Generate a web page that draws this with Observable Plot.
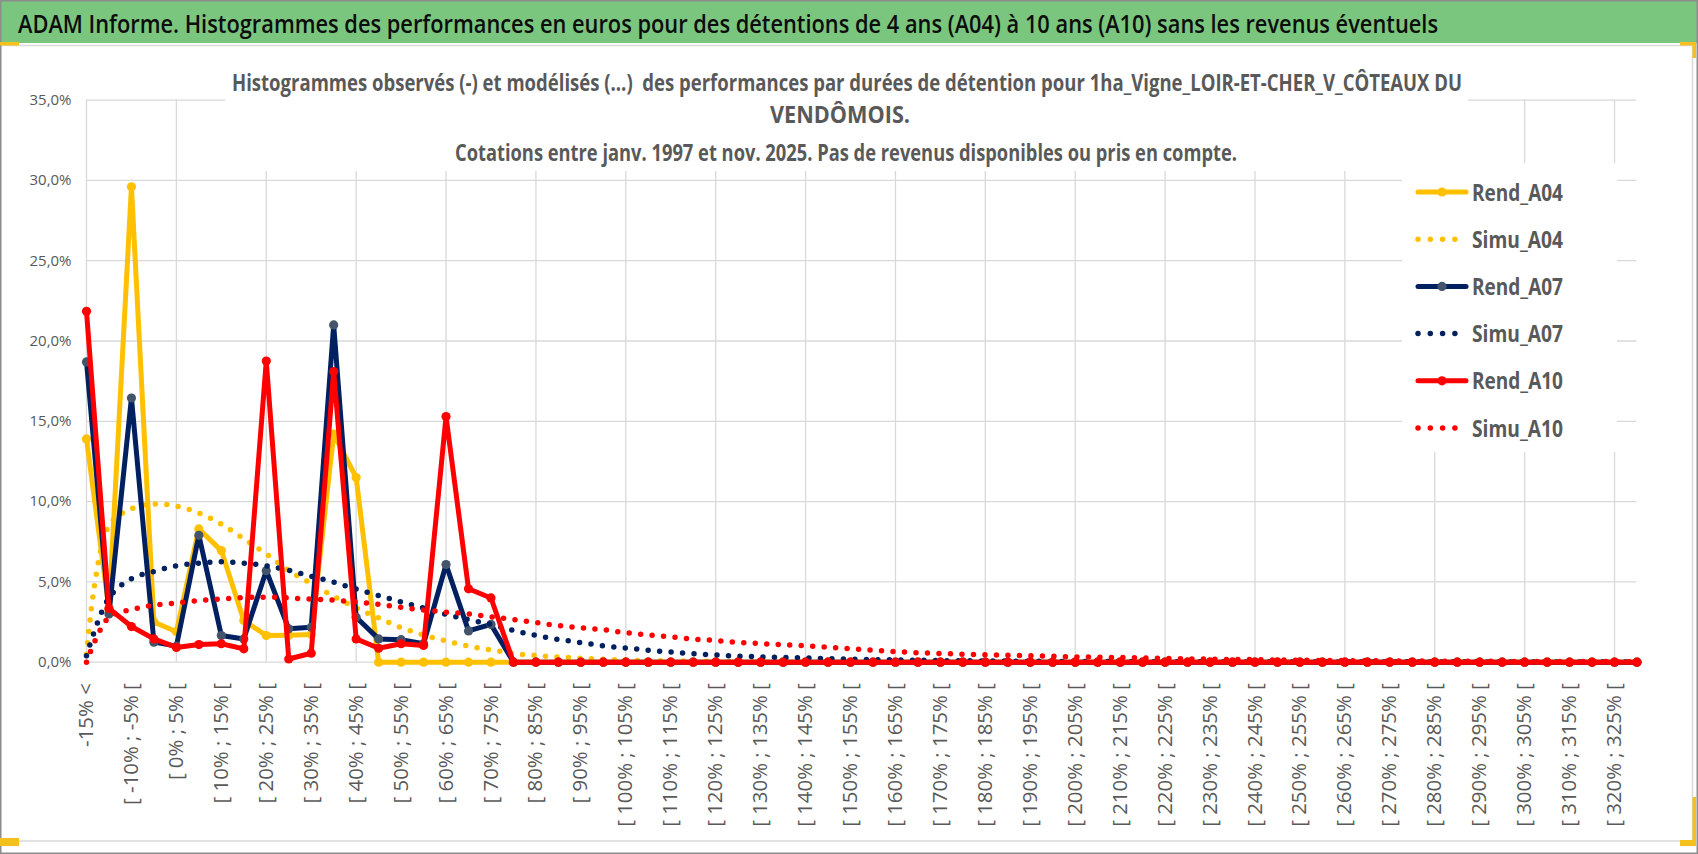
<!DOCTYPE html>
<html>
<head>
<meta charset="utf-8">
<script src="https://cdn.jsdelivr.net/npm/d3@7"></script>
<script src="https://cdn.jsdelivr.net/npm/@observablehq/plot@0.6"></script>
<style>
  html, body { margin: 0; padding: 0; background: #fff; }
  #wrap { position: relative; width: 1698px; height: 854px; overflow: hidden; background: #fff; }
  #plot { position: absolute; left: 0; top: 45px; }
  #overlay { position: absolute; left: 0; top: 0; pointer-events: none; }
  #overlay text { font-family: 'Open Sans', sans-serif; white-space: pre; }
</style>
</head>
<body>
<div id="wrap">
  <div id="plot"></div>
  <svg id="overlay" width="1698" height="854" xmlns="http://www.w3.org/2000/svg"></svg>
</div>
<script>
// ---------------- DATA ----------------
const categories = [
  "-15% <", "[ -15% ; -10% [", "[ -10% ; -5% [", "[ -5% ; 0% [", "[ 0% ; 5% [",
  "[ 5% ; 10% [", "[ 10% ; 15% [", "[ 15% ; 20% [", "[ 20% ; 25% [", "[ 25% ; 30% [",
  "[ 30% ; 35% [", "[ 35% ; 40% [", "[ 40% ; 45% [", "[ 45% ; 50% [", "[ 50% ; 55% [",
  "[ 55% ; 60% [", "[ 60% ; 65% [", "[ 65% ; 70% [", "[ 70% ; 75% [", "[ 75% ; 80% [",
  "[ 80% ; 85% [", "[ 85% ; 90% [", "[ 90% ; 95% [", "[ 95% ; 100% [", "[ 100% ; 105% [",
  "[ 105% ; 110% [", "[ 110% ; 115% [", "[ 115% ; 120% [", "[ 120% ; 125% [", "[ 125% ; 130% [",
  "[ 130% ; 135% [", "[ 135% ; 140% [", "[ 140% ; 145% [", "[ 145% ; 150% [", "[ 150% ; 155% [",
  "[ 155% ; 160% [", "[ 160% ; 165% [", "[ 165% ; 170% [", "[ 170% ; 175% [", "[ 175% ; 180% [",
  "[ 180% ; 185% [", "[ 185% ; 190% [", "[ 190% ; 195% [", "[ 195% ; 200% [", "[ 200% ; 205% [",
  "[ 205% ; 210% [", "[ 210% ; 215% [", "[ 215% ; 220% [", "[ 220% ; 225% [", "[ 225% ; 230% [",
  "[ 230% ; 235% [", "[ 235% ; 240% [", "[ 240% ; 245% [", "[ 245% ; 250% [", "[ 250% ; 255% [",
  "[ 255% ; 260% [", "[ 260% ; 265% [", "[ 265% ; 270% [", "[ 270% ; 275% [", "[ 275% ; 280% [",
  "[ 280% ; 285% [", "[ 285% ; 290% [", "[ 290% ; 295% [", "[ 295% ; 300% [", "[ 300% ; 305% [",
  "[ 305% ; 310% [", "[ 310% ; 315% [", "[ 315% ; 320% [", "[ 320% ; 325% [", "[ 325% ; 330% ["
];

// values in percent
const rendA04 = [13.9, 3.3, 29.6, 2.5, 1.9, 8.3, 6.95, 2.6, 1.66, 1.68, 1.72, 14.2, 11.5,
  0, 0, 0, 0, 0, 0, 0, 0, 0, 0, 0, 0, 0, 0, 0, 0, 0, 0, 0, 0, 0, 0, 0, 0, 0, 0, 0, 0,
  0, 0, 0, 0, 0, 0, 0, 0, 0, 0, 0, 0, 0, 0, 0, 0, 0, 0, 0, 0, 0, 0, 0, 0, 0, 0, 0, 0, 0];
const simuA04 = [0.5, 8.5, 9.55, 9.85, 9.72, 9.28, 8.6, 7.68, 6.74, 5.71, 4.9, 4.1, 3.38, 2.75, 2.15,
  1.7, 1.32, 1.0, 0.77, 0.54, 0.42, 0.32, 0.25, 0.18, 0.13, 0.1, 0.08, 0.06, 0.05, 0.04,
  0.03, 0.03, 0.02, 0.02, 0.02, 0.02, 0.01, 0.01, 0.01, 0.01, 0.01, 0.01, 0.01, 0.01, 0.01,
  0.01, 0.01, 0.01, 0.01, 0.01, 0.01, 0.01, 0.01, 0.01, 0.01, 0.01, 0.01, 0.01, 0.01, 0.01,
  0.01, 0.01, 0.01, 0.01, 0.01, 0.01, 0.01, 0.01, 0.01, 0.01];
const rendA07 = [18.7, 3.0, 16.45, 1.25, 1.0, 7.9, 1.66, 1.45, 5.7, 2.08, 2.18, 21.0, 2.8, 1.45, 1.4,
  1.15, 6.08, 1.95, 2.35, 0, 0, 0, 0, 0, 0, 0, 0, 0, 0, 0, 0, 0, 0, 0, 0, 0, 0, 0, 0, 0, 0,
  0, 0, 0, 0, 0, 0, 0, 0, 0, 0, 0, 0, 0, 0, 0, 0, 0, 0, 0, 0, 0, 0, 0, 0, 0, 0, 0, 0, 0];
const simuA07 = [0.4, 4.0, 5.2, 5.65, 6.0, 6.17, 6.25, 6.17, 6.0, 5.72, 5.35, 4.98, 4.55, 4.15, 3.75,
  3.38, 2.98, 2.65, 2.35, 1.98, 1.67, 1.42, 1.22, 1.02, 0.88, 0.75, 0.63, 0.53, 0.45, 0.38,
  0.33, 0.29, 0.26, 0.22, 0.19, 0.16, 0.14, 0.12, 0.1, 0.09, 0.08, 0.07, 0.06, 0.05, 0.05,
  0.04, 0.04, 0.03, 0.03, 0.03, 0.02, 0.02, 0.02, 0.02, 0.02, 0.02, 0.02, 0.02, 0.02, 0.02,
  0.01, 0.01, 0.01, 0.01, 0.01, 0.01, 0.01, 0.01, 0.01, 0.01];
const rendA10 = [21.85, 3.35, 2.22, 1.45, 0.92, 1.1, 1.15, 0.83, 18.75, 0.2, 0.56, 18.1, 1.45, 0.87, 1.15,
  1.04, 15.3, 4.57, 4.0, 0, 0, 0, 0, 0, 0, 0, 0, 0, 0, 0, 0, 0, 0, 0, 0, 0, 0, 0, 0, 0, 0,
  0, 0, 0, 0, 0, 0, 0, 0, 0, 0, 0, 0, 0, 0, 0, 0, 0, 0, 0, 0, 0, 0, 0, 0, 0, 0, 0, 0, 0];
const simuA10 = [0.0, 2.8, 3.27, 3.55, 3.68, 3.84, 3.93, 4.02, 4.05, 4.0, 3.93, 3.86, 3.75, 3.6, 3.42,
  3.25, 3.12, 3.0, 2.83, 2.66, 2.47, 2.28, 2.14, 2.02, 1.84, 1.7, 1.58, 1.44, 1.35, 1.23,
  1.16, 1.09, 1.02, 0.93, 0.84, 0.74, 0.66, 0.59, 0.54, 0.5, 0.47, 0.43, 0.41, 0.37, 0.33,
  0.31, 0.29, 0.26, 0.23, 0.21, 0.19, 0.17, 0.16, 0.14, 0.12, 0.11, 0.1, 0.09, 0.08, 0.08,
  0.07, 0.06, 0.06, 0.05, 0.05, 0.05, 0.04, 0.04, 0.04, 0.03];

const yTicks = [0, 5, 10, 15, 20, 25, 30, 35];
const labelIdx = d3.range(0, categories.length, 2);
const gridIdx = d3.range(0, categories.length, 4);

const series = [
  { name: "Rend_A04", values: rendA04, color: "#FFC000", marker: "#FFC000", dotted: false },
  { name: "Simu_A04", values: simuA04, color: "#FFC000", dotted: true },
  { name: "Rend_A07", values: rendA07, color: "#002060", marker: "#44546A", dotted: false },
  { name: "Simu_A07", values: simuA07, color: "#002060", dotted: true },
  { name: "Rend_A10", values: rendA10, color: "#FF0000", marker: "#FF0000", dotted: false },
  { name: "Simu_A10", values: simuA10, color: "#FF0000", dotted: true }
];

const titleMain = "ADAM Informe. Histogrammes des performances en euros pour des détentions de 4 ans (A04) à 10 ans (A10) sans les revenus éventuels";
const subLines = [
  "Histogrammes observés (-) et modélisés (...)  des performances par durées de détention pour 1ha_Vigne_LOIR-ET-CHER_V_CÔTEAUX DU",
  "VENDÔMOIS.",
  "Cotations entre janv. 1997 et nov. 2025. Pas de revenus disponibles ou pris en compte."
];

// ---------------- PLOT ----------------
const X = (d, i) => i;
const Y = d => d;
const seriesMarks = series.flatMap(s => s.dotted
  ? [Plot.line(s.values, { x: X, y: Y, stroke: s.color, strokeWidth: 5.5, strokeDasharray: "0 11.5",
      strokeLinecap: "round", curve: "catmull-rom" })]
  : [Plot.line(s.values, { x: X, y: Y, stroke: s.color, strokeWidth: 5, strokeLinejoin: "round", strokeLinecap: "round" }),
     Plot.dot(s.values, { x: X, y: Y, r: 4.6, fill: s.marker, stroke: null })]
);

const chart = Plot.plot({
  width: 1698,
  height: 796,
  marginLeft: 86,
  marginRight: 61.5,
  marginTop: 54.6,
  marginBottom: 179.3,
  style: { fontFamily: "'Open Sans', sans-serif", color: "#595959", background: "transparent" },
  x: { domain: [0, categories.length - 1] },
  y: { domain: [0, 35] },
  marks: [
    Plot.gridY(yTicks, { stroke: "#D9D9D9", strokeOpacity: 1, strokeWidth: 1.3 }),
    Plot.gridX(gridIdx, { stroke: "#D9D9D9", strokeOpacity: 1, strokeWidth: 1.3 }),
    Plot.axisY(yTicks, { tickSize: 0, tickPadding: 15, fontSize: 15, label: null,
      tickFormat: d => d.toFixed(1).replace(".", ",") + "%" }),
    Plot.axisX(labelIdx, { tickSize: 0, tickPadding: 21, tickRotate: -90, fontSize: 20.4, label: null,
      tickFormat: i => categories[i] }),
    ...seriesMarks
  ]
});
document.getElementById("plot").appendChild(chart);

// ---------------- OVERLAY (banner, title, legend, frame) ----------------
const ov = d3.select("#overlay");
// banner
ov.append("rect").attr("x", 0).attr("y", 0).attr("width", 1698).attr("height", 43).attr("fill", "#7BC67E");
ov.append("text").attr("x", 18).attr("y", 32.5).attr("font-size", 25).attr("font-weight", 600)
  .attr("fill", "#0d0d0d").attr("textLength", 1420).attr("lengthAdjust", "spacingAndGlyphs").text(titleMain);
// chart area border (light gray)
ov.append("path").attr("d", "M0,45.5 H1692.5 V841 H0").attr("fill", "none").attr("stroke", "#D9D9D9").attr("stroke-width", 1.5);
// outer frame
ov.append("rect").attr("x", 0.75).attr("y", 0.75).attr("width", 1696.5).attr("height", 852.5)
  .attr("fill", "none").attr("stroke", "#8C8C8C").attr("stroke-width", 1.5);
// selection handles
const handles = [[0, 42, 19, 3.5], [1680, 42, 16, 3.5], [1692.5, 42, 3.5, 16], [0, 838, 19, 8], [1680, 840, 16, 6], [1692.5, 797, 3.5, 49]];
handles.forEach(([x, y, w, h]) => ov.append("rect").attr("x", x).attr("y", y).attr("width", w).attr("height", h).attr("fill", "#F4C01E"));

// chart title box
ov.append("rect").attr("x", 225).attr("y", 58).attr("width", 1243).attr("height", 113).attr("fill", "#fff");
const subPos = [[232, 91, 1230], [770, 122.5, 140], [455, 161, 782]];
subLines.forEach((t, k) => {
  ov.append("text").attr("x", subPos[k][0]).attr("y", subPos[k][1]).attr("font-size", 23).attr("font-weight", 700)
    .attr("fill", "#595959").attr("textLength", subPos[k][2]).attr("lengthAdjust", "spacingAndGlyphs").text(t);
});

// legend
ov.append("rect").attr("x", 1402).attr("y", 163).attr("width", 215).attr("height", 289).attr("fill", "#fff");
series.forEach((s, k) => {
  const cy = 192 + k * 47.2;
  if (s.dotted) {
    const x2 = s.name === "Simu_A10" ? 1467 : 1455;
    ov.append("line").attr("x1", 1418).attr("x2", x2).attr("y1", cy).attr("y2", cy)
      .attr("stroke", s.color).attr("stroke-width", 5.5).attr("stroke-dasharray", "0 12.3").attr("stroke-linecap", "round");
  } else {
    ov.append("line").attr("x1", 1418).attr("x2", 1466).attr("y1", cy).attr("y2", cy)
      .attr("stroke", s.color).attr("stroke-width", 5).attr("stroke-linecap", "round");
    ov.append("circle").attr("cx", 1442).attr("cy", cy).attr("r", 4.6).attr("fill", s.marker);
  }
  ov.append("text").attr("x", 1472).attr("y", cy + 8.5).attr("font-size", 23).attr("font-weight", 700)
    .attr("fill", "#595959").attr("textLength", 91).attr("lengthAdjust", "spacingAndGlyphs").text(s.name);
});
</script>
</body>
</html>
